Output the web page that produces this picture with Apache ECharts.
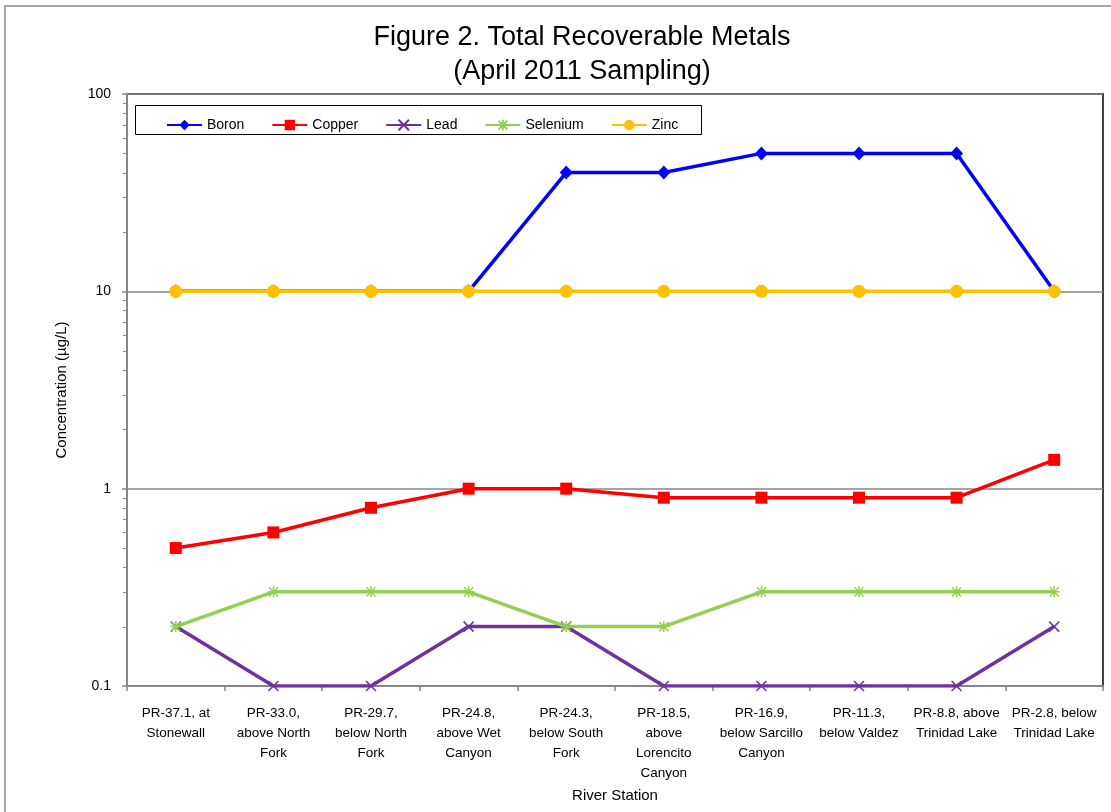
<!DOCTYPE html>
<html>
<head>
<meta charset="utf-8">
<title>Figure 2. Total Recoverable Metals</title>
<script src="https://cdn.jsdelivr.net/npm/echarts@6/dist/echarts.min.js"></script>
<style>
  html, body { margin: 0; padding: 0; background: #fff; }
  #chart { width: 1111px; height: 812px; }
</style>
</head>
<body>
<div id="chart"></div>
<script>
var FONT = 'Liberation Sans, Arial, sans-serif';

// river stations, upstream to downstream
var stations = [
  'PR-37.1, at\nStonewall',
  'PR-33.0,\nabove North\nFork',
  'PR-29.7,\nbelow North\nFork',
  'PR-24.8,\nabove Wet\nCanyon',
  'PR-24.3,\nbelow South\nFork',
  'PR-18.5,\nabove\nLorencito\nCanyon',
  'PR-16.9,\nbelow Sarcillo\nCanyon',
  'PR-11.3,\nbelow Valdez',
  'PR-8.8, above\nTrinidad Lake',
  'PR-2.8, below\nTrinidad Lake'
];

// concentrations in ug/L
var boron    = [10, 10, 10, 10, 40, 40, 50, 50, 50, 10];
var copper   = [0.5, 0.6, 0.8, 1, 1, 0.9, 0.9, 0.9, 0.9, 1.4];
var lead     = [0.2, 0.1, 0.1, 0.2, 0.2, 0.1, 0.1, 0.1, 0.1, 0.2];
var selenium = [0.2, 0.3, 0.3, 0.3, 0.2, 0.2, 0.3, 0.3, 0.3, 0.3];
var zinc     = [10, 10, 10, 10, 10, 10, 10, 10, 10, 10];

var yTicks = [0.1, 1, 10, 100];
var minorSteps = [2, 3, 4, 5, 6, 7, 8, 9];

var chart = echarts.init(document.getElementById('chart'));

function mkSeries(name, data, color, symbol, size, stroked) {
  return {
    name: name,
    type: 'line',
    data: data,
    symbol: symbol,
    symbolSize: size,
    lineStyle: { color: color, width: 3.5 },
    itemStyle: stroked
      ? { color: color, borderColor: color, borderWidth: 1.5 }
      : { color: color, borderWidth: 0 }
  };
}

var X_PATH = 'path://M0 0L10 10M10 0L0 10';
var STAR_PATH = 'path://M0 0L10 10M10 0L0 10M5 -1L5 11M-1 5L11 5';

var option = {
  animation: false,
  backgroundColor: '#fff',
  textStyle: { fontFamily: FONT, color: '#000' },
  grid: {
    left: 127, right: 8, top: 94, bottom: 126,
    show: true, borderColor: '#404040', borderWidth: 2
  },
  legend: {
    left: 161, top: 113,
    itemWidth: 35, itemHeight: 13, itemGap: 27,
    textStyle: { fontFamily: FONT, fontSize: 14, color: '#000' },
    data: ['Boron', 'Copper', 'Lead', 'Selenium', 'Zinc']
  },
  xAxis: {
    type: 'category',
    data: stations,
    boundaryGap: true,
    name: 'River Station',
    nameLocation: 'middle',
    nameGap: 100,
    nameTextStyle: { fontFamily: FONT, fontSize: 15, color: '#000', verticalAlign: 'top' },
    axisLine: { lineStyle: { color: '#868686', width: 2 } },
    axisTick: { show: true, interval: 0, length: 5, lineStyle: { color: '#868686', width: 1.5 } },
    axisLabel: { interval: 0, margin: 17, fontSize: 13.5, lineHeight: 20, color: '#000', fontFamily: FONT },
    splitLine: { show: false }
  },
  yAxis: {
    type: 'log',
    logBase: 10,
    min: 0.1,
    max: 100,
    name: 'Concentration (\u00b5g/L)',
    nameLocation: 'middle',
    nameGap: 58,
    nameTextStyle: { fontFamily: FONT, fontSize: 15, color: '#000' },
    axisLine: { show: true, lineStyle: { color: '#868686', width: 2 } },
    axisTick: { show: true, length: 5, lineStyle: { color: '#868686', width: 1.5 } },
    axisLabel: {
      margin: 16, fontSize: 14, color: '#000', fontFamily: FONT,
      formatter: function(v) {
        for (var i = 0; i < yTicks.length; i++) {
          if (Math.abs(v - yTicks[i]) < 1e-6 * yTicks[i]) return String(yTicks[i]);
        }
        return '';
      }
    },
    splitLine: { show: true, lineStyle: { color: '#868686', width: 1.5 } }
  },
  series: [
    mkSeries('Boron', boron, '#0000ff', 'diamond', [13, 14], false),
    mkSeries('Copper', copper, '#ff0000', 'rect', 12, false),
    mkSeries('Lead', lead, '#7030a0', X_PATH, 10, true),
    mkSeries('Selenium', selenium, '#92d050', STAR_PATH, 11, true),
    mkSeries('Zinc', zinc, '#ffc000', 'circle', 13, false)
  ]
};

chart.setOption(option);

// title, outer frame, legend box and log minor ticks
var graphics = [
  {
    type: 'rect', silent: true, z: -1,
    shape: { x: 5, y: 6, width: 1200, height: 900 },
    style: { fill: 'none', stroke: '#a6a6a6', lineWidth: 2 }
  },
  {
    type: 'rect', silent: true,
    shape: { x: 135.5, y: 105.5, width: 566, height: 29 },
    style: { fill: 'none', stroke: '#000', lineWidth: 1 }
  },
  {
    type: 'text', silent: true,
    x: 582, y: 21,
    style: {
      text: 'Figure 2. Total Recoverable Metals\n(April 2011 Sampling)',
      font: '27px ' + FONT, fill: '#000',
      align: 'center', verticalAlign: 'top', lineHeight: 34
    }
  }
];

var x0 = chart.convertToPixel({ xAxisIndex: 0 }, 0);
var x1 = chart.convertToPixel({ xAxisIndex: 0 }, 1);
var axisX = x0 - (x1 - x0) / 2;
[0.1, 1, 10].forEach(function(dec) {
  minorSteps.forEach(function(k) {
    var py = Math.round(chart.convertToPixel({ yAxisIndex: 0 }, dec * k)) + 0.5;
    graphics.push({
      type: 'line', silent: true,
      shape: { x1: axisX - 4, y1: py, x2: axisX, y2: py },
      style: { stroke: '#868686', lineWidth: 1 }
    });
  });
});

chart.setOption({ graphic: graphics });
</script>
</body>
</html>
